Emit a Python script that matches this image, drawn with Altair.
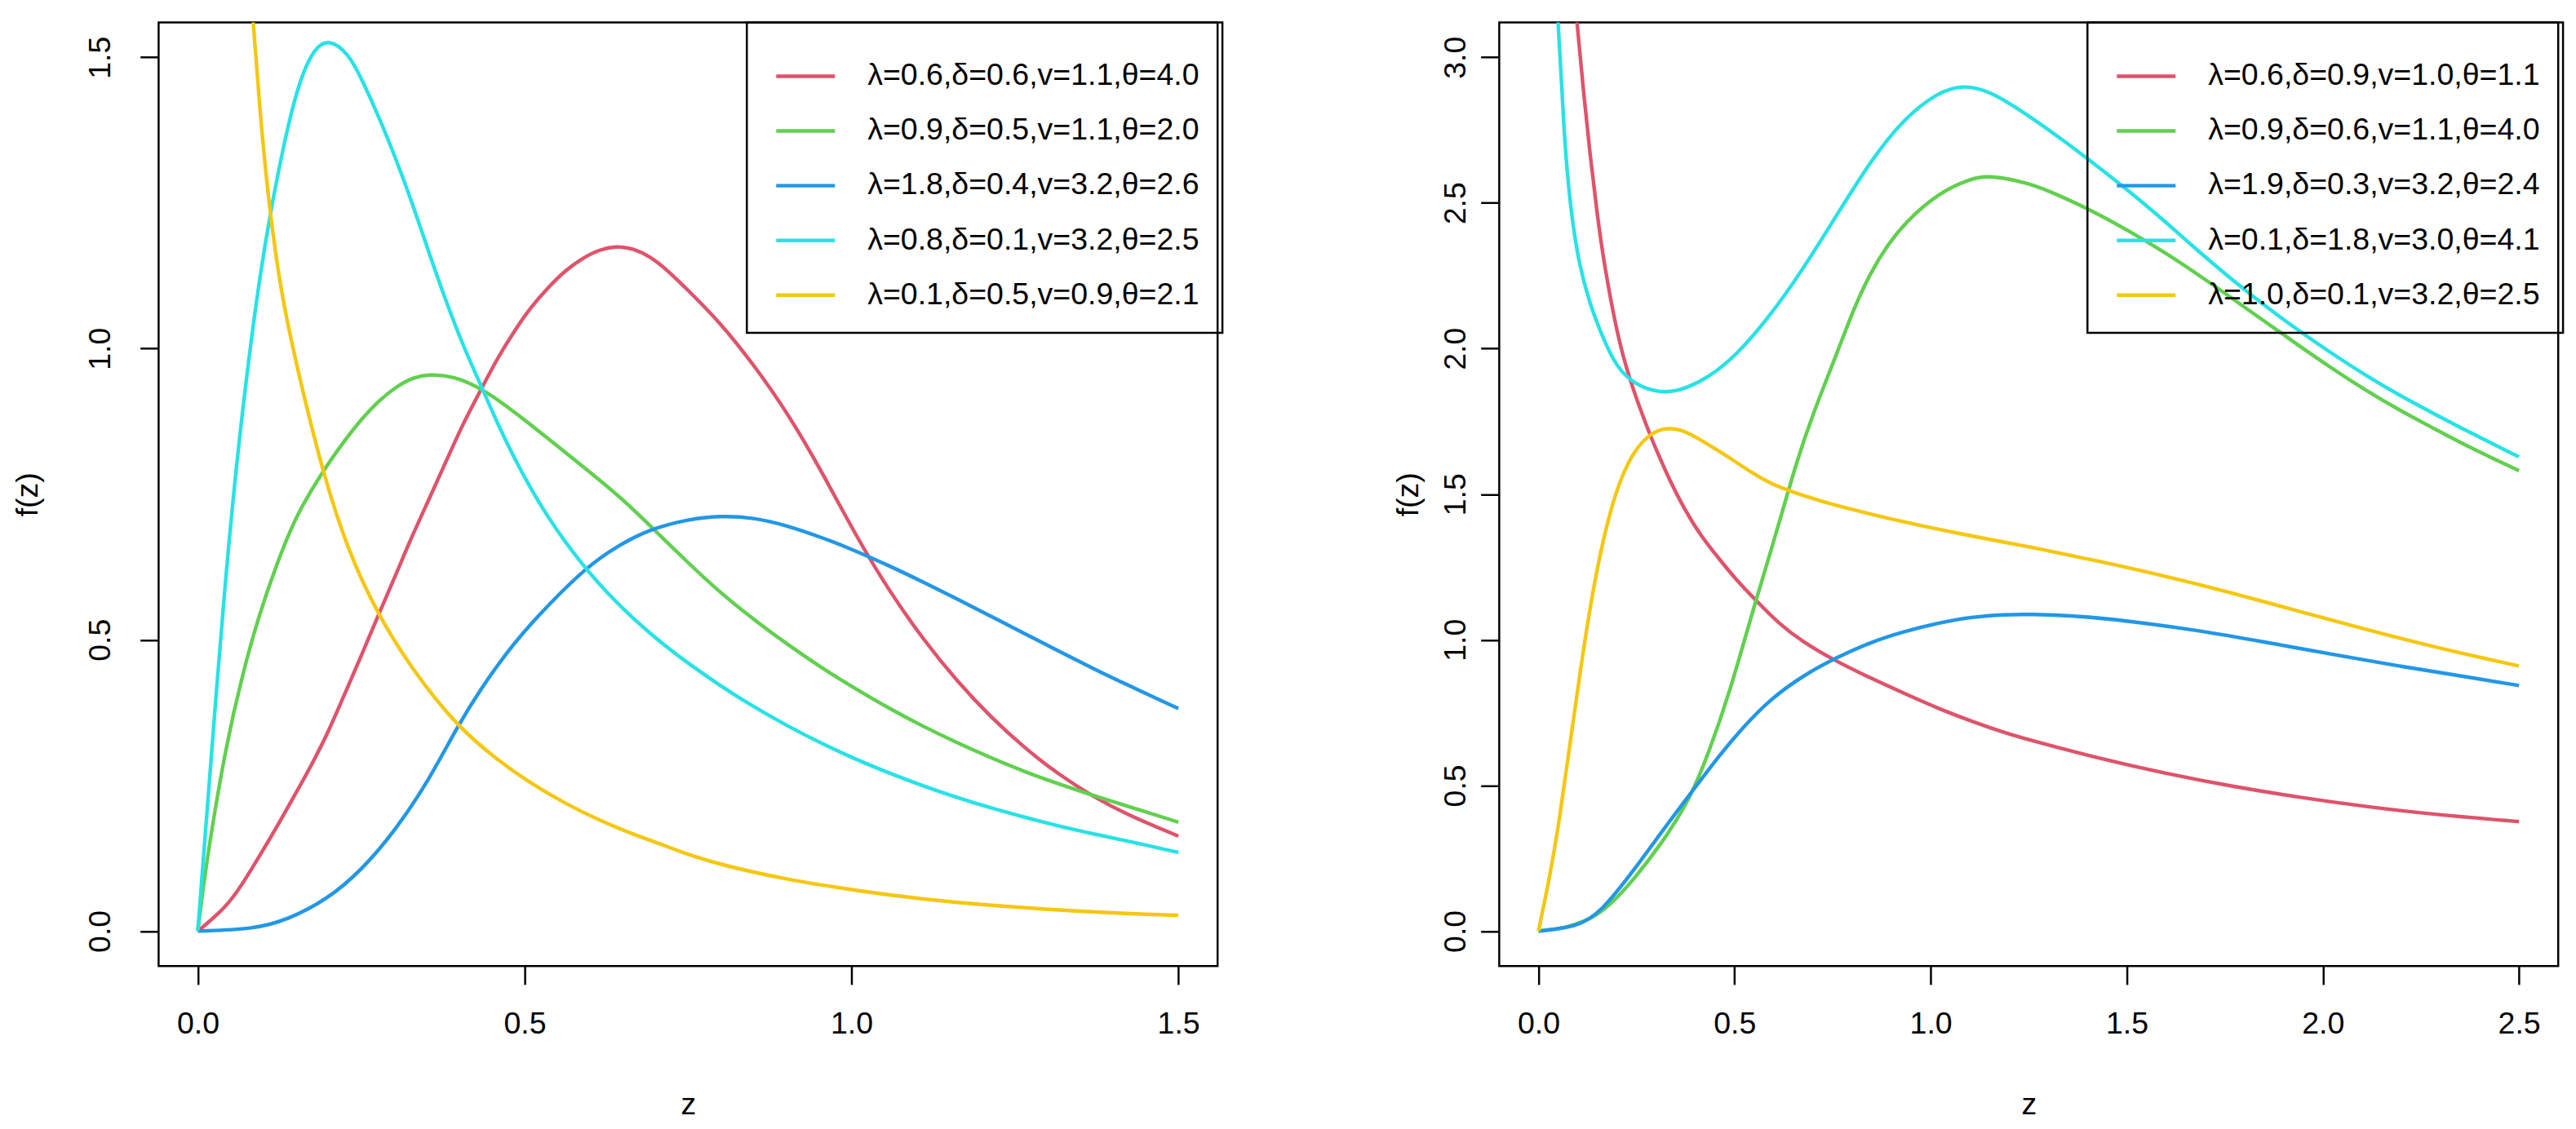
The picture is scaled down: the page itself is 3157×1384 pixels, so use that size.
import altair as alt
import pandas as pd

FONT = "Liberation Sans"
COLORS = ["#DF536B", "#61D04F", "#2297E6", "#28E2E5", "#F5C710"]

# ---------------- left panel ----------------
LEFT_LABELS = ["λ=0.6,δ=0.6,v=1.1,θ=4.0", "λ=0.9,δ=0.5,v=1.1,θ=2.0",
               "λ=1.8,δ=0.4,v=3.2,θ=2.6", "λ=0.8,δ=0.1,v=3.2,θ=2.5",
               "λ=0.1,δ=0.5,v=0.9,θ=2.1"]

L_RED_X = [0, 0.043, 0.069, 0.095, 0.121, 0.147, 0.173, 0.199, 0.225, 0.251, 0.277, 0.303, 0.328, 0.354,
           0.380, 0.406, 0.432, 0.458, 0.484, 0.510, 0.536, 0.562, 0.588, 0.614, 0.640, 0.666, 0.692, 0.717,
           0.750, 0.798, 0.850, 0.902, 0.954, 1.006, 1.058, 1.110, 1.162, 1.214, 1.266, 1.318, 1.369, 1.421, 1.500]
L_RED_Y = [0, 0.040, 0.082, 0.130, 0.179, 0.231, 0.283, 0.340, 0.408, 0.475, 0.545, 0.612, 0.679, 0.742,
           0.807, 0.872, 0.927, 0.983, 1.030, 1.072, 1.105, 1.134, 1.155, 1.170, 1.176, 1.172, 1.158, 1.136,
           1.100, 1.046, 0.973, 0.890, 0.790, 0.680, 0.583, 0.500, 0.428, 0.366, 0.313, 0.268, 0.231, 0.200, 0.163]

L_GREEN_X = [0, 0.012, 0.043, 0.069, 0.095, 0.121, 0.147, 0.173, 0.199, 0.225, 0.251, 0.277, 0.303, 0.328,
             0.354, 0.391, 0.437, 0.484, 0.562, 0.640, 0.691, 0.750, 0.798, 0.850, 0.902, 0.954, 1.006, 1.058,
             1.110, 1.162, 1.214, 1.266, 1.318, 1.369, 1.421, 1.500]
L_GREEN_Y = [0, 0.112, 0.320, 0.444, 0.548, 0.631, 0.704, 0.756, 0.802, 0.843, 0.880, 0.911, 0.934, 0.950,
             0.956, 0.953, 0.930, 0.892, 0.822, 0.752, 0.697, 0.632, 0.582, 0.535, 0.492, 0.452, 0.416, 0.382,
             0.351, 0.323, 0.297, 0.273, 0.252, 0.233, 0.215, 0.187]

L_BLUE_X = [0, 0.085, 0.137, 0.199, 0.251, 0.303, 0.354, 0.396, 0.432, 0.484, 0.536, 0.596, 0.640, 0.691,
            0.750, 0.798, 0.850, 0.902, 0.954, 1.006, 1.058, 1.110, 1.162, 1.214, 1.266, 1.318, 1.369, 1.421, 1.500]
L_BLUE_Y = [0, 0.003, 0.019, 0.055, 0.105, 0.174, 0.260, 0.349, 0.415, 0.496, 0.560, 0.626, 0.660, 0.690,
            0.707, 0.713, 0.710, 0.696, 0.676, 0.653, 0.627, 0.599, 0.570, 0.540, 0.510, 0.480, 0.451, 0.423, 0.382]

L_CYAN_X = [0, 0.043, 0.069, 0.095, 0.116, 0.137, 0.157, 0.178, 0.199, 0.230, 0.251, 0.277, 0.303, 0.328,
            0.354, 0.380, 0.406, 0.432, 0.458, 0.484, 0.510, 0.536, 0.562, 0.588, 0.613, 0.640, 0.665, 0.691,
            0.717, 0.746, 0.798, 0.850, 0.902, 0.954, 1.006, 1.058, 1.110, 1.162, 1.214, 1.266, 1.318, 1.369,
            1.421, 1.500]
L_CYAN_Y = [0, 0.631, 0.905, 1.130, 1.264, 1.380, 1.465, 1.515, 1.532, 1.508, 1.462, 1.398, 1.326, 1.250,
            1.163, 1.080, 1.004, 0.940, 0.872, 0.812, 0.758, 0.710, 0.668, 0.630, 0.597, 0.565, 0.538, 0.512,
            0.488, 0.463, 0.422, 0.385, 0.352, 0.322, 0.295, 0.271, 0.249, 0.229, 0.211, 0.195, 0.180, 0.167,
            0.155, 0.135]

L_YELLOW_X = [0.060, 0.070, 0.084, 0.095, 0.106, 0.126, 0.157, 0.191, 0.230, 0.277, 0.328, 0.396, 0.458,
              0.510, 0.562, 0.614, 0.666, 0.717, 0.750, 0.798, 0.850, 0.902, 0.954, 1.006, 1.058, 1.110,
              1.162, 1.214, 1.266, 1.318, 1.369, 1.421, 1.500]
L_YELLOW_Y = [2.000, 1.800, 1.564, 1.409, 1.274, 1.098, 0.942, 0.788, 0.651, 0.540, 0.449, 0.352, 0.294,
              0.253, 0.219, 0.190, 0.166, 0.146, 0.131, 0.115, 0.101, 0.089, 0.079, 0.070, 0.062, 0.055,
              0.049, 0.044, 0.040, 0.036, 0.033, 0.030, 0.027]

# ---------------- right panel ----------------
RIGHT_LABELS = ["λ=0.6,δ=0.9,v=1.0,θ=1.1", "λ=0.9,δ=0.6,v=1.1,θ=4.0",
                "λ=1.9,δ=0.3,v=3.2,θ=2.4", "λ=0.1,δ=1.8,v=3.0,θ=4.1",
                "λ=1.0,δ=0.1,v=3.2,θ=2.5"]

R_RED_X = [0.070, 0.080, 0.098, 0.115, 0.132, 0.149, 0.166, 0.201, 0.231, 0.261, 0.287, 0.330, 0.373, 0.416,
           0.459, 0.502, 0.554, 0.614, 0.675, 0.748, 0.847, 0.933, 1.019, 1.105, 1.191, 1.250, 1.422, 1.595,
           1.767, 1.939, 2.111, 2.284, 2.500]
R_RED_Y = [3.600, 3.400, 3.120, 2.880, 2.660, 2.470, 2.300, 2.045, 1.901, 1.787, 1.694, 1.560, 1.446, 1.353,
           1.281, 1.209, 1.136, 1.054, 0.992, 0.934, 0.868, 0.816, 0.764, 0.720, 0.680, 0.657, 0.595, 0.542,
           0.497, 0.459, 0.427, 0.400, 0.376]

R_GREEN_X = [0, 0.072, 0.158, 0.244, 0.330, 0.390, 0.433, 0.485, 0.554, 0.606, 0.658, 0.700, 0.761, 0.804,
             0.847, 0.890, 0.933, 1.019, 1.105, 1.148, 1.250, 1.336, 1.422, 1.508, 1.595, 1.681, 1.767, 1.853,
             1.939, 2.025, 2.111, 2.197, 2.284, 2.370, 2.500]
R_GREEN_Y = [0, 0.010, 0.052, 0.176, 0.331, 0.465, 0.609, 0.806, 1.136, 1.364, 1.612, 1.777, 1.983, 2.138,
             2.262, 2.355, 2.430, 2.535, 2.585, 2.595, 2.570, 2.521, 2.466, 2.402, 2.332, 2.255, 2.174, 2.092,
             2.010, 1.930, 1.855, 1.787, 1.725, 1.663, 1.581]

R_BLUE_X = [0, 0.098, 0.158, 0.244, 0.330, 0.399, 0.459, 0.520, 0.588, 0.675, 0.761, 0.847, 0.933, 1.019,
            1.105, 1.191, 1.250, 1.379, 1.508, 1.681, 1.853, 2.025, 2.197, 2.370, 2.500]
R_BLUE_Y = [0, 0.014, 0.062, 0.210, 0.370, 0.492, 0.600, 0.697, 0.793, 0.878, 0.940, 0.992, 1.029, 1.058,
            1.079, 1.087, 1.088, 1.082, 1.064, 1.033, 0.992, 0.950, 0.909, 0.872, 0.843]

R_CYAN_X = [0.035, 0.040, 0.050, 0.059, 0.067, 0.080, 0.102, 0.132, 0.162, 0.196, 0.244, 0.321, 0.382, 0.433,
            0.502, 0.588, 0.675, 0.761, 0.847, 0.933, 1.019, 1.079, 1.148, 1.250, 1.336, 1.422, 1.508, 1.595,
            1.681, 1.767, 1.853, 1.939, 2.025, 2.111, 2.197, 2.284, 2.370, 2.500]
R_CYAN_Y = [3.500, 3.350, 3.120, 2.913, 2.707, 2.500, 2.293, 2.149, 2.045, 1.942, 1.875, 1.843, 1.866, 1.901,
            1.973, 2.107, 2.273, 2.459, 2.645, 2.792, 2.880, 2.905, 2.888, 2.800, 2.717, 2.630, 2.538, 2.440,
            2.336, 2.238, 2.146, 2.061, 1.981, 1.906, 1.838, 1.776, 1.715, 1.628]

R_YELLOW_X = [0, 0.029, 0.055, 0.080, 0.106, 0.132, 0.158, 0.184, 0.210, 0.244, 0.287, 0.330, 0.373, 0.416,
              0.459, 0.502, 0.546, 0.588, 0.645, 0.718, 0.804, 0.890, 0.976, 1.062, 1.148, 1.250, 1.422,
              1.595, 1.767, 1.939, 2.111, 2.284, 2.500]
R_YELLOW_Y = [0, 0.186, 0.393, 0.640, 0.888, 1.116, 1.302, 1.446, 1.555, 1.650, 1.712, 1.730, 1.718, 1.684,
              1.649, 1.612, 1.572, 1.539, 1.508, 1.477, 1.446, 1.417, 1.392, 1.368, 1.345, 1.320, 1.272,
              1.220, 1.162, 1.098, 1.035, 0.975, 0.910]

LEFT_X_TICKS = [0.0, 0.5, 1.0, 1.5]
LEFT_Y_TICKS = [0.0, 0.5, 1.0, 1.5]
RIGHT_X_TICKS = [0.0, 0.5, 1.0, 1.5, 2.0, 2.5]
RIGHT_Y_TICKS = [0.0, 0.5, 1.0, 1.5, 2.0, 2.5, 3.0]


def build_df(labels, xs, ys):
    rows = []
    for k, (lab, xv, yv) in enumerate(zip(labels, xs, ys)):
        for i, (a, b) in enumerate(zip(xv, yv)):
            rows.append({"z": a, "f": b, "series": lab, "k": k, "i": i})
    return pd.DataFrame(rows)


left_df = build_df(LEFT_LABELS,
                   [L_RED_X, L_GREEN_X, L_BLUE_X, L_CYAN_X, L_YELLOW_X],
                   [L_RED_Y, L_GREEN_Y, L_BLUE_Y, L_CYAN_Y, L_YELLOW_Y])
right_df = build_df(RIGHT_LABELS,
                    [R_RED_X, R_GREEN_X, R_BLUE_X, R_CYAN_X, R_YELLOW_X],
                    [R_RED_Y, R_GREEN_Y, R_BLUE_Y, R_CYAN_Y, R_YELLOW_Y])

W, H = 1316, 1173


def panel(df, labels, xmax, ymax, xticks, yticks, ylab_pad, ytitle_x):
    xr = xmax * 0.04
    yr = ymax * 0.04
    return alt.Chart(df).mark_line(clip=True, strokeWidth=4.5, interpolate="basis").encode(
        x=alt.X("z:Q",
                scale=alt.Scale(domain=[-xr, xmax + xr], nice=False, zero=False),
                axis=alt.Axis(values=xticks, format=".1f", grid=False, domain=False,
                              tickSize=23, tickWidth=2.5, tickColor="black",
                              labelFont=FONT, labelFontSize=38, labelColor="black",
                              labelPadding=49, labelBaseline="middle", labelAlign="center",
                              labelFlush=False, labelOverlap=False,
                              title="z", titleFont=FONT, titleFontSize=38, titleFontWeight="normal",
                              titleColor="black", titleY=173, titleBaseline="middle", titleAlign="center")),
        y=alt.Y("f:Q",
                scale=alt.Scale(domain=[-yr, ymax + yr], nice=False, zero=False),
                axis=alt.Axis(values=yticks, format=".1f", grid=False, domain=False,
                              tickSize=23, tickWidth=2.5, tickColor="black",
                              labelFont=FONT, labelFontSize=38, labelColor="black",
                              labelAngle=270, labelPadding=ylab_pad, labelBaseline="middle",
                              labelAlign="center", labelFlush=False, labelOverlap=False,
                              title="f(z)", titleFont=FONT, titleFontSize=38, titleFontWeight="normal",
                              titleColor="black", titleAngle=270, titleX=ytitle_x, titleY=H / 2,
                              titleBaseline="middle", titleAlign="center")),
        color=alt.Color("series:N",
                        scale=alt.Scale(domain=labels, range=COLORS),
                        legend=alt.Legend(title=None, orient="none", legendX=731, legendY=0,
                                          padding=28, rowPadding=10, symbolType="stroke",
                                          symbolSize=5329, symbolStrokeWidth=4.5, symbolOffset=6,
                                          labelOffset=38, labelFont=FONT, labelFontSize=38,
                                          labelColor="black", labelLimit=1000,
                                          strokeColor="black")),
        detail="k:N",
        order="i:Q",
    ).properties(width=W, height=H)


left = panel(left_df, LEFT_LABELS, 1.5, 1.5, LEFT_X_TICKS, LEFT_Y_TICKS, 49, -162)
right = panel(right_df, RIGHT_LABELS, 2.5, 3.0, RIGHT_X_TICKS, RIGHT_Y_TICKS, 30, -112)

chart = alt.hconcat(left, right, spacing=208).resolve_scale(
    x="independent", y="independent", color="independent"
).resolve_legend(color="independent").properties(
    padding={"left": 6, "top": 7, "right": 5, "bottom": 5},
    background="white",
).configure_view(stroke="black", strokeWidth=2.5).configure_legend(strokeWidth=2.5)

chart.save("out.html", embed_options={"renderer": "svg", "actions": False})
